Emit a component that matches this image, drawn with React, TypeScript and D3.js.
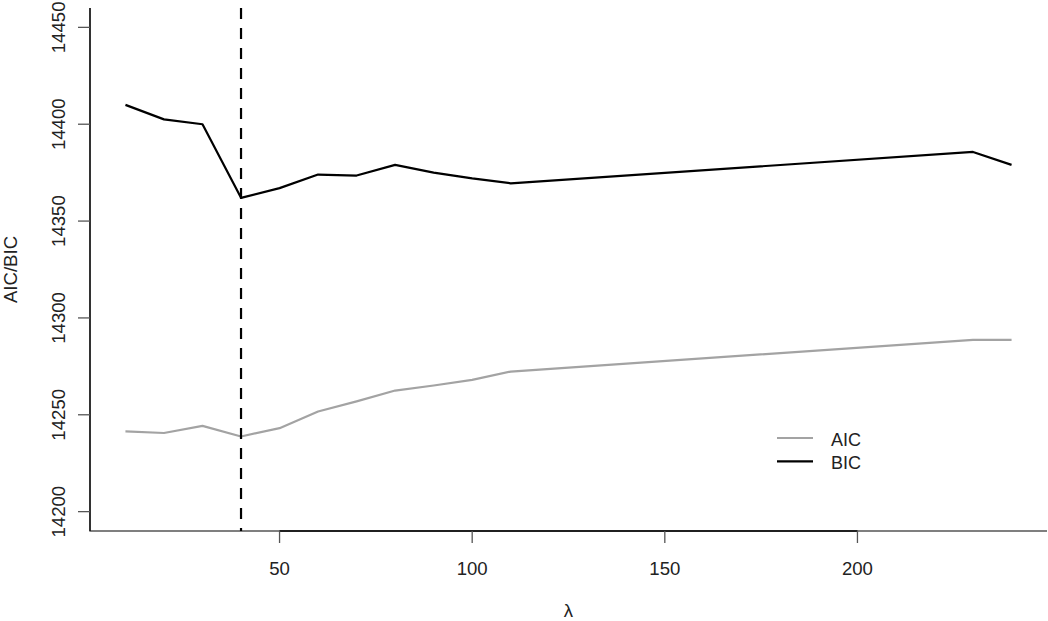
import { useEffect, useRef } from 'react';
import * as d3 from 'd3';

// lambda grid and information criteria
const lambdas = [10, 20, 30, 40, 50, 60, 70, 80, 90, 100, 110, 230, 240];
const aicValues = [14241.4, 14240.6, 14244.3, 14238.8, 14243.1, 14251.7, 14256.9, 14262.5, 14265.1, 14268, 14272.3, 14288.7, 14288.7];
const bicValues = [14410, 14402.5, 14400, 14362, 14367, 14374, 14373.5, 14379, 14375, 14372, 14369.5, 14385.7, 14379];
const selectedLambda = 40;
const xTicks = [50, 100, 150, 200];
const yTicks = [14200, 14250, 14300, 14350, 14400, 14450];
const legendLabels = ['AIC', 'BIC'];

const FONT = '"Liberation Sans", Arial, Helvetica, sans-serif';
const AIC_COLOR = '#a3a3a3';
const BIC_COLOR = '#000';

export default function App() {
  const svgRef = useRef<SVGSVGElement>(null);

  useEffect(() => {
    if (!svgRef.current) return;
    const svg = d3.select(svgRef.current);
    svg.selectAll('*').remove();

    const width = 1048;
    const height = 621;
    const plot = { left: 90, right: 1047, top: 8, bottom: 531 };

    const x = d3.scaleLinear().domain([0.8, 249.2]).range([plot.left, plot.right]);
    const y = d3.scaleLinear().domain([14190, 14460]).range([plot.bottom, plot.top]);

    svg.attr('width', width).attr('height', height).attr('viewBox', `0 0 ${width} ${height}`);

    // L-shaped box
    svg.append('path')
      .attr('d', `M${plot.left},${plot.top}V${plot.bottom}H${plot.right}`)
      .attr('fill', 'none')
      .attr('stroke', '#555')
      .attr('stroke-width', 1.3);

    // x axis
    const xAxis = svg.append('g');
    xAxis.append('line')
      .attr('x1', x(xTicks[0]))
      .attr('x2', x(xTicks[xTicks.length - 1]))
      .attr('y1', plot.bottom)
      .attr('y2', plot.bottom)
      .attr('stroke', '#000')
      .attr('stroke-width', 1.3);
    xAxis.selectAll('line.tick')
      .data(xTicks)
      .join('line')
      .attr('class', 'tick')
      .attr('x1', d => x(d))
      .attr('x2', d => x(d))
      .attr('y1', plot.bottom)
      .attr('y2', plot.bottom + 12)
      .attr('stroke', '#555')
      .attr('stroke-width', 1.3);
    xAxis.selectAll('text')
      .data(xTicks)
      .join('text')
      .attr('x', d => x(d))
      .attr('y', 575)
      .attr('text-anchor', 'middle')
      .attr('font-family', FONT)
      .attr('font-size', '18.6px')
      .attr('fill', '#222')
      .text(d => d);

    // y axis
    const yAxis = svg.append('g');
    yAxis.append('line')
      .attr('x1', plot.left)
      .attr('x2', plot.left)
      .attr('y1', plot.top)
      .attr('y2', plot.bottom)
      .attr('stroke', '#000')
      .attr('stroke-width', 1.3);
    yAxis.selectAll('line.tick')
      .data(yTicks)
      .join('line')
      .attr('class', 'tick')
      .attr('x1', plot.left)
      .attr('x2', plot.left - 12)
      .attr('y1', d => y(d))
      .attr('y2', d => y(d))
      .attr('stroke', '#555')
      .attr('stroke-width', 1.3);
    yAxis.selectAll('text')
      .data(yTicks)
      .join('text')
      .attr('transform', d => `translate(65,${y(d)}) rotate(-90)`)
      .attr('text-anchor', 'middle')
      .attr('font-family', FONT)
      .attr('font-size', '18.6px')
      .attr('fill', '#222')
      .text(d => d);

    // axis titles
    svg.append('text')
      .attr('transform', `translate(16.5,${(plot.top + plot.bottom) / 2}) rotate(-90)`)
      .attr('text-anchor', 'middle')
      .attr('font-family', FONT)
      .attr('font-size', '18.6px')
      .attr('fill', '#222')
      .text('AIC/BIC');

    svg.append('text')
      .attr('x', (plot.left + plot.right) / 2)
      .attr('y', 617)
      .attr('text-anchor', 'middle')
      .attr('font-family', FONT)
      .attr('font-size', '18.6px')
      .attr('fill', '#222')
      .text('λ');

    // series
    const line = d3.line<number>()
      .x((_, i) => x(lambdas[i]));

    svg.append('path')
      .datum(aicValues)
      .attr('fill', 'none')
      .attr('stroke', AIC_COLOR)
      .attr('stroke-width', 2.2)
      .attr('stroke-linejoin', 'round')
      .attr('d', line.y(d => y(d)));

    svg.append('path')
      .datum(bicValues)
      .attr('fill', 'none')
      .attr('stroke', BIC_COLOR)
      .attr('stroke-width', 2.2)
      .attr('stroke-linejoin', 'round')
      .attr('d', line.y(d => y(d)));

    // selected lambda
    svg.append('line')
      .attr('x1', x(selectedLambda))
      .attr('x2', x(selectedLambda))
      .attr('y1', plot.top)
      .attr('y2', plot.bottom)
      .attr('stroke', '#000')
      .attr('stroke-width', 2.2)
      .attr('stroke-dasharray', '11,9');

    // legend
    const legend = svg.append('g').attr('transform', 'translate(777,438)');
    const items = legend.selectAll('g')
      .data(legendLabels)
      .join('g')
      .attr('transform', (_, i) => `translate(0,${i * 23.4})`);
    items.append('line')
      .attr('x1', 0)
      .attr('x2', 36)
      .attr('stroke', (_, i) => (i === 0 ? AIC_COLOR : BIC_COLOR))
      .attr('stroke-width', 2.2);
    items.append('text')
      .attr('x', 54)
      .attr('y', 7.5)
      .attr('font-family', FONT)
      .attr('font-size', '18px')
      .attr('fill', '#222')
      .text(d => d);
  }, []);

  return (
    <div style={{ position: 'absolute', left: 0, top: 0, width: 1048, height: 621, background: '#fff' }}>
      <svg ref={svgRef} style={{ display: 'block' }} />
    </div>
  );
}
